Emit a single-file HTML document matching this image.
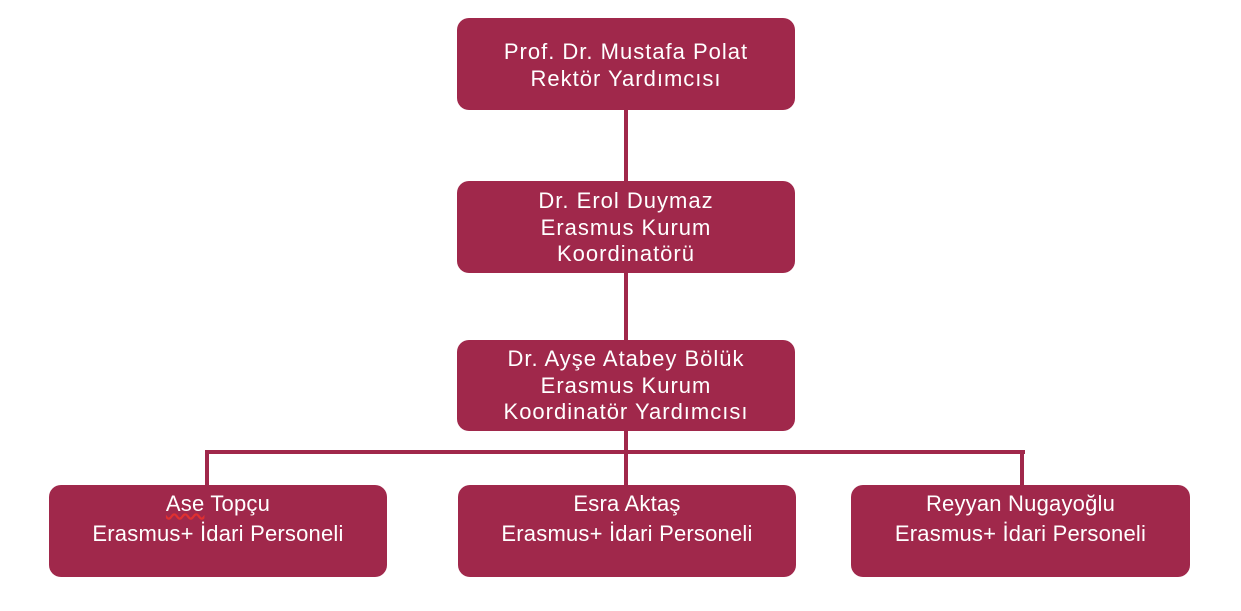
<!DOCTYPE html>
<html><head><meta charset="utf-8"><style>
body{margin:0;width:1241px;height:611px;background:#fff;position:relative;overflow:hidden;font-family:"Liberation Sans",sans-serif;}
.b{position:absolute;background:#a0284b;border-radius:12px;color:#fff;text-align:center;font-size:22px;letter-spacing:1px;line-height:26.5px;box-sizing:border-box;}
.l{position:absolute;background:#a0284b;}
.s{font-size:22px;letter-spacing:0.2px;line-height:30px;padding-top:4px}
</style></head><body>
<div class="l" style="left:624px;top:108px;width:4px;height:345px"></div>
<div class="l" style="left:205px;top:450px;width:820px;height:4px"></div>
<div class="l" style="left:205px;top:450px;width:4px;height:37px"></div>
<div class="l" style="left:1020px;top:450px;width:4px;height:37px"></div>
<div class="l" style="left:624px;top:450px;width:4px;height:37px"></div>
<div class="b" style="left:457px;top:18px;width:338px;height:92px;padding-top:21px">Prof. Dr. Mustafa Polat<br>Rektör Yardımcısı</div>
<div class="b" style="left:457px;top:181px;width:338px;height:92px;padding-top:7px">Dr. Erol Duymaz<br>Erasmus Kurum<br>Koordinatörü</div>
<div class="b" style="left:457px;top:340px;width:338px;height:91px;padding-top:6px">Dr. Ayşe Atabey Bölük<br>Erasmus Kurum<br>Koordinatör Yardımcısı</div>
<div class="b s" style="left:49px;top:485px;width:338px;height:92px"><span style="text-decoration:underline wavy #e03030;">Ase</span> Topçu<br>Erasmus+ İdari Personeli</div>
<div class="b s" style="left:458px;top:485px;width:338px;height:92px">Esra Aktaş<br>Erasmus+ İdari Personeli</div>
<div class="b s" style="left:851px;top:485px;width:339px;height:92px">Reyyan Nugayoğlu<br>Erasmus+ İdari Personeli</div>
</body></html>
